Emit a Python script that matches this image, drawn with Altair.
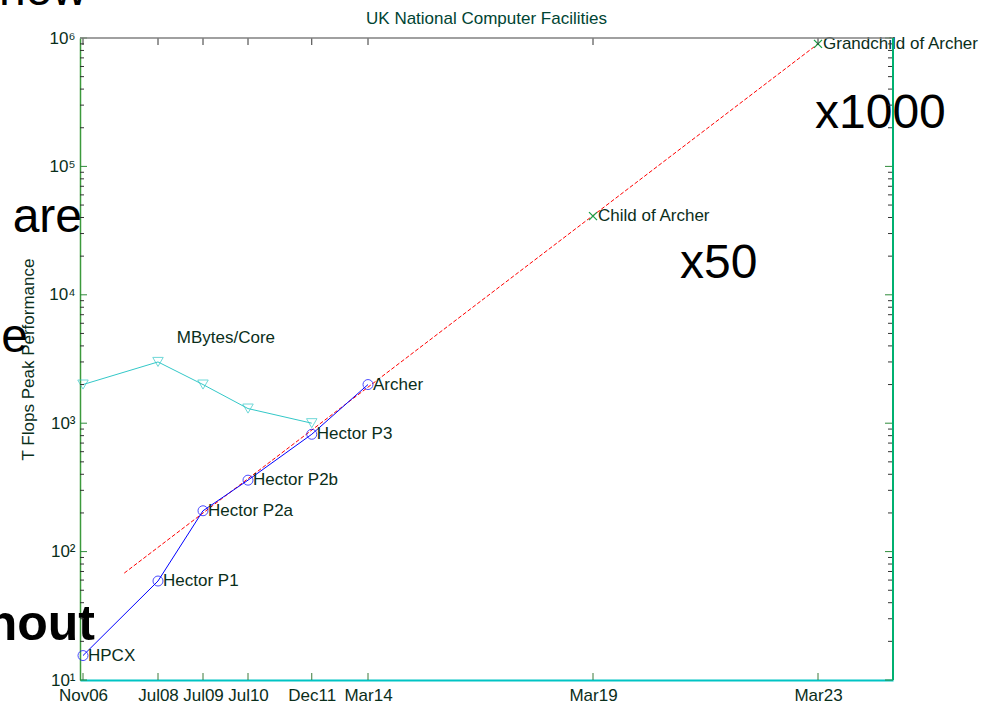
import altair as alt
import pandas as pd

# Time axis: months elapsed since Nov 2006 for each labelled date
date_labels = ["Nov06", "Jul08", "Jul09", "Jul10", "Dec11", "Mar14", "Mar19", "Mar23"]
date_pos = [0, 20, 32, 44, 61, 76, 136, 196]

# Installed national machines: peak performance (TFlops)
machines = ["HPCX", "Hector P1", "Hector P2a", "Hector P2b", "Hector P3", "Archer"]
machine_pos = [0, 20, 32, 44, 61, 76]
machine_tflops = [15.5, 59, 208, 360, 820, 2000]

# Projected successors
future = ["Child of Archer", "Grandchild of Archer"]
future_pos = [136, 196]
future_tflops = [41000, 900000]

# Memory per core of the installed machines (MBytes)
mem_pos = [0, 20, 32, 44, 61]
mem_mbytes = [2000, 3000, 2000, 1300, 1000]

# Exponential trend line, end points
trend_pos = [11, 196]
trend_tflops = [68, 900000]

# Log-axis tick values
major_vals = [10 ** k for k in range(1, 7)]
minor_vals = [m * 10 ** k for k in range(1, 6) for m in range(2, 10)]
sup_digits = ["¹", "²", "³", "⁴", "⁵", "⁶"]

FONT = "Liberation Sans"
TXT = "#0a2e1a"
W, H = 813, 642

xs = alt.Scale(domain=[-0.8, 216], nice=False, zero=False)
ys = alt.Scale(type="log", domain=[10, 1e6], nice=False)

machines_df = pd.DataFrame({"m": machine_pos, "v": machine_tflops, "name": machines})
future_df = pd.DataFrame({"m": future_pos, "v": future_tflops, "name": future})
mem_df = pd.DataFrame({"m": mem_pos, "v": mem_mbytes})
trend_df = pd.DataFrame({"m": trend_pos, "v": trend_tflops})
major_df = pd.DataFrame({"v": major_vals})
minor_df = pd.DataFrame({"v": minor_vals})
dates_df = pd.DataFrame({"m": date_pos})
memlabel_df = pd.DataFrame({"m": [25], "v": [4600], "name": ["MBytes/Core"]})

# Date tick labels: chained conditional on the tick value
x_label_expr = "".join(
    "datum.value == %s ? '%s' : " % (p, s) for p, s in zip(date_pos, date_labels)
) + "''"
# Power-of-ten labels with superscript exponents
y_label_expr = "".join(
    "datum.value == %s ? '10%s' : " % (v, s) for v, s in zip(major_vals, sup_digits)
) + "''"

x_axis = alt.Axis(
    values=date_pos, labelExpr=x_label_expr, ticks=False, grid=False,
    domainColor="#00c4c4", domainWidth=2, labelFont=FONT, labelFontSize=17,
    labelColor=TXT, labelPadding=7, labelFlush=False, title=None)
y_axis = alt.Axis(
    values=major_vals, labelExpr=y_label_expr, ticks=False, grid=False,
    domainColor="#3c9a3c", domainWidth=1.5, labelFont=FONT, labelFontSize=17,
    labelColor=TXT, labelPadding=5, labelFlush=False,
    title="T Flops Peak Performance", titleFont=FONT, titleFontSize=17,
    titleFontWeight="normal", titleColor=TXT, titleX=-52, titleY=321,
    titleAlign="center", titleBaseline="middle", titleAngle=270)

X = alt.X("m:Q", scale=xs, axis=x_axis)
Y = alt.Y("v:Q", scale=ys, axis=y_axis)

# Slide text behind the figure
def slide_text(txt, x, y, align, size=48, weight="normal"):
    return alt.Chart(major_df.head(1)).mark_text(
        font=FONT, fontSize=size, fontWeight=weight, color="#000000",
        align=align, baseline="alphabetic",
    ).encode(x=alt.value(x), y=alt.value(y), text=alt.value(txt))

backdrop = [
    slide_text("how", 7, -33, "right"),
    slide_text("are", 2, 194, "right"),
    slide_text("e", -52, 314, "right"),
    slide_text("hout", 15, 602, "right", size=50, weight="bold"),
    slide_text("x1000", 735, 90, "left"),
    slide_text("x50", 600, 240, "left"),
]

chart_title = alt.Chart(major_df.head(1)).mark_text(
    font=FONT, fontSize=17, color="#004433", align="center", baseline="alphabetic"
).encode(x=alt.value(W / 2), y=alt.value(-14), text=alt.value("UK National Computer Facilities"))

# Frame: top and right edges
top_edge = alt.Chart(major_df.head(1)).mark_rule(color="#808080", strokeWidth=1.5).encode(
    x=alt.value(0), x2=alt.value(W), y=alt.value(0))
right_edge = alt.Chart(major_df.head(1)).mark_rule(color="#00b070", strokeWidth=2).encode(
    x=alt.value(W), y=alt.value(0), y2=alt.value(H))

# Inward ticks on all four sides
yt_major_l = alt.Chart(major_df).mark_rule(color="#2e8b3a").encode(y=Y, x=alt.value(0), x2=alt.value(7))
yt_minor_l = alt.Chart(minor_df).mark_rule(color="#333333").encode(y=Y, x=alt.value(0), x2=alt.value(4))
yt_major_r = alt.Chart(major_df).mark_rule(color="#2e8b3a").encode(y=Y, x=alt.value(W), x2=alt.value(W - 8))
yt_minor_r = alt.Chart(minor_df).mark_rule(color="#333333").encode(y=Y, x=alt.value(W), x2=alt.value(W - 5))
xt_bottom = alt.Chart(dates_df).mark_rule(color="#3a7a3a").encode(x=X, y=alt.value(H), y2=alt.value(H - 7))
xt_top = alt.Chart(dates_df).mark_rule(color="#333333").encode(x=X, y=alt.value(0), y2=alt.value(7))

# Data series
trend = alt.Chart(trend_df).mark_line(color="#ff0000", strokeDash=[4, 2], strokeWidth=1).encode(x=X, y=Y)
perf_line = alt.Chart(machines_df).mark_line(color="#0000ff", strokeWidth=1).encode(x=X, y=Y)
perf_pts = alt.Chart(machines_df).mark_point(
    shape="circle", filled=False, color="#0000ff", size=100, strokeWidth=1).encode(x=X, y=Y)
mem_line = alt.Chart(mem_df).mark_line(color="#33c8c8", strokeWidth=1).encode(x=X, y=Y)
mem_pts = alt.Chart(mem_df).mark_point(
    shape="triangle-down", filled=False, color="#33c8c8", size=110, strokeWidth=1).encode(x=X, y=Y)
future_pts = alt.Chart(future_df).mark_point(
    shape="M-1,-1L1,1M1,-1L-1,1", filled=False, color="#18a048", size=64,
    strokeWidth=1.3, opacity=1
).encode(x=X, y=Y)

label_style = dict(font=FONT, fontSize=17, color=TXT, align="left", baseline="middle", dx=5)
perf_labels = alt.Chart(machines_df).mark_text(**label_style).encode(x=X, y=Y, text="name:N")
future_labels = alt.Chart(future_df).mark_text(**label_style).encode(x=X, y=Y, text="name:N")
mem_label = alt.Chart(memlabel_df).mark_text(
    font=FONT, fontSize=17, color=TXT, align="left", baseline="middle").encode(x=X, y=Y, text="name:N")

chart = alt.layer(
    *backdrop, chart_title,
    trend, mem_line, mem_pts, perf_line, perf_pts, future_pts,
    perf_labels, future_labels, mem_label,
    yt_major_l, yt_minor_l, yt_major_r, yt_minor_r, xt_bottom, xt_top,
    top_edge, right_edge,
).properties(
    width=W, height=H,
    autosize=alt.AutoSizeParams(type="none"),
    padding={"left": 80, "top": 38, "right": 113, "bottom": 24},
    background="white",
).configure_view(stroke=None)

chart.save("out.html", embed_options={"renderer": "svg", "actions": False})
